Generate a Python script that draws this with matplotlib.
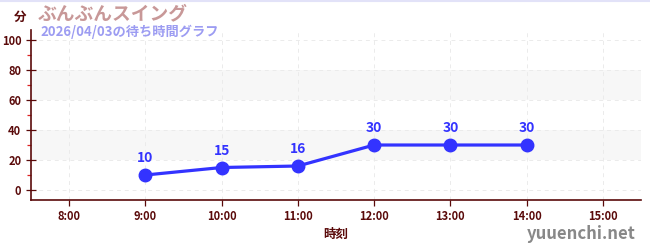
import matplotlib
matplotlib.use("Agg")
import matplotlib.pyplot as plt
from matplotlib.lines import Line2D

plt.rcParams['font.family'] = ['Noto Sans CJK JP', 'DejaVu Sans']

# data
hours = [9, 10, 11, 12, 13, 14]
waits = [10, 15, 16, 30, 30, 30]
tick_hours = [8, 9, 10, 11, 12, 13, 14, 15]
tick_labels = ["8:00", "9:00", "10:00", "11:00", "12:00", "13:00", "14:00", "15:00"]
y_ticks = [0, 20, 40, 60, 80, 100]

dark = "#5a0a0a"
blue = "#3333ff"

fig = plt.figure(figsize=(6.5, 2.5), dpi=100)
ax = fig.add_axes([31 / 650, 0.2, 610 / 650, 0.68])

ax.set_xlim(7.5, 15.5)
ax.set_ylim(-6.67, 106.7)

# alternating bands
for lo, hi in [(20, 40), (60, 80)]:
    ax.axhspan(lo, hi, color="#f7f7f7", zorder=0, lw=0)

ax.grid(True, which="major", color="#ebebeb", linestyle=(0, (4, 4)), linewidth=0.7)
ax.set_axisbelow(True)

ax.plot(hours, waits, color=blue, linewidth=2.3, marker="o", markersize=9, zorder=3)
for h, w in zip(hours, waits):
    ax.annotate(str(w), (h, w), xytext=(0, 7), textcoords="offset points",
                ha="center", va="bottom", color=blue, fontsize=10, fontweight="bold")

ax.set_xticks(tick_hours)
ax.set_xticklabels(tick_labels)
ax.set_yticks(y_ticks)
ax.set_yticks([10, 30, 50, 70, 90], minor=True)

for s in ["top", "right"]:
    ax.spines[s].set_visible(False)
for s in ["left", "bottom"]:
    ax.spines[s].set_color(dark)
    ax.spines[s].set_linewidth(1.2)

ax.tick_params(axis="both", which="major", colors=dark, labelsize=8, length=4, width=0.9)
ax.tick_params(axis="y", which="major", direction="inout", length=7)
ax.tick_params(axis="y", which="minor", color="#dd2222", length=3, width=0.9)
for lbl in ax.get_xticklabels() + ax.get_yticklabels():
    lbl.set_fontweight("bold")

ax.set_xlabel("時刻", color=dark, fontsize=9, fontweight="bold", labelpad=3)

fig.text(20 / 650, 1 - 17 / 250, "分", color=dark, fontsize=9, fontweight="bold",
         ha="center", va="center")
fig.text(38 / 650, 1 - 14 / 250, "ぶんぶんスイング", color="#c89898", fontsize=13.5,
         fontweight="bold", ha="left", va="center")
fig.text(40 / 650, 1 - 32 / 250, "2026/04/03の待ち時間グラフ", color="#9c9cf2",
         fontsize=9.5, fontweight="bold", ha="left", va="center")
fig.text(636 / 650, 1 - 234 / 250, "yuuenchi.net", color="#888888", fontsize=12,
         fontweight="bold", ha="right", va="center")

fig.add_artist(Line2D([0, 1], [0.997, 0.997], transform=fig.transFigure,
                      color="#e2e2f8", linewidth=1.5))

fig.savefig("out.png", dpi=100)
